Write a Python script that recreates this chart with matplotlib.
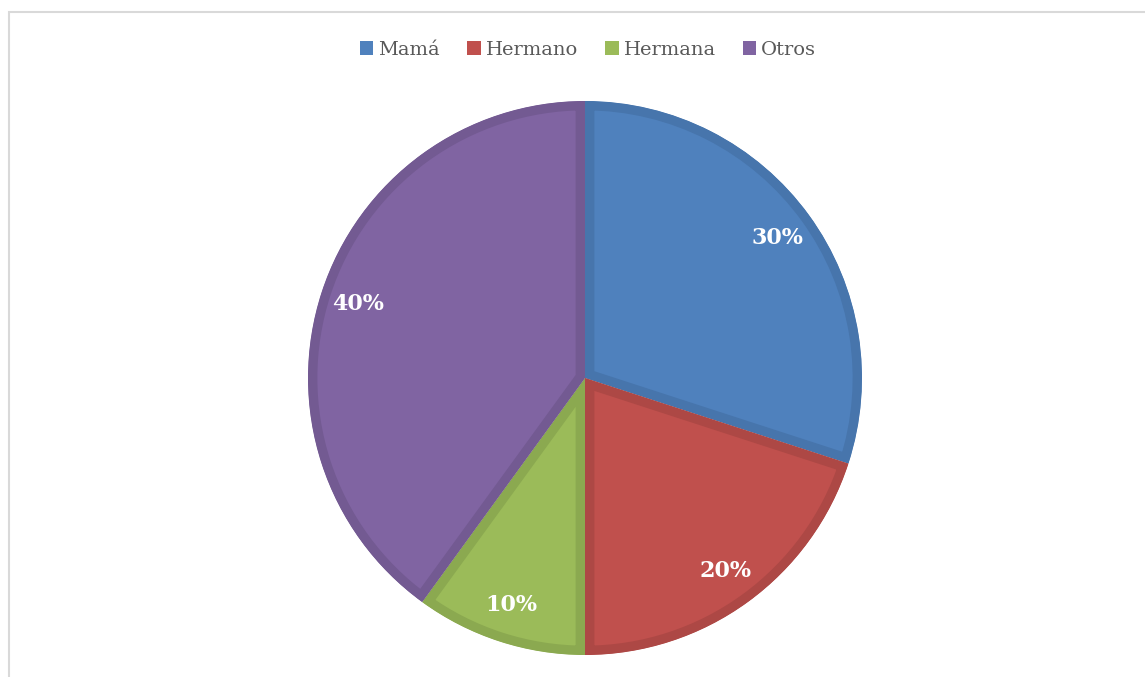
import matplotlib.pyplot as plt
from matplotlib.patches import Rectangle

labels = ['Mamá', 'Hermano', 'Hermana', 'Otros']
values = [30, 20, 10, 40]
colors = ['#4F81BD', '#C0504D', '#9BBB59', '#8064A2']
edge_colors = ['#4775AC', '#AD4845', '#8BA950', '#735A92']

W, H = 1145, 677
fig = plt.figure(figsize=(W / 100, H / 100), dpi=100)
fig.patch.set_facecolor('white')

# light frame of the chart area (cropped screenshot)
fig.patches.append(Rectangle((9 / W, -0.1), 1.2, 1 - 12 / H + 0.1,
                             transform=fig.transFigure, fill=False,
                             edgecolor='#D9D9D9', linewidth=1.5))

cx, cy, r = 585, 378, 277
ax = fig.add_axes([(cx - r) / W, (H - cy - r) / H, 2 * r / W, 2 * r / H])
ax.set_aspect('equal')

wedges, texts, autotexts = ax.pie(
    values, colors=colors, startangle=90, counterclock=False,
    autopct='%1.0f%%', pctdistance=0.86, radius=1.0,
    textprops=dict(color='white', fontsize=16, fontweight='bold',
                   family='DejaVu Serif'))

# darker inner band along each slice outline
for w, ec in zip(wedges, edge_colors):
    w.set_edgecolor(ec)
    w.set_linewidth(13.5)
    w.set_clip_on(True)
    w.set_clip_path(w.get_path(), w.get_transform())

ax.set_xlim(-1.0, 1.0)
ax.set_ylim(-1.0, 1.0)
ax.axis('off')

leg = fig.legend(wedges, labels, loc='center', bbox_to_anchor=(588 / W, 1 - 50 / H),
                 ncol=4, frameon=False, handlelength=0.7,
                 handleheight=0.7, handletextpad=0.25, columnspacing=1.4,
                 prop=dict(family='DejaVu Serif', size=14))
for t in leg.get_texts():
    t.set_color('#595959')
for h, c in zip(leg.legend_handles, colors):
    h.set_edgecolor(c)
    h.set_linewidth(0)

fig.savefig('out.png', dpi=100, facecolor='white')
